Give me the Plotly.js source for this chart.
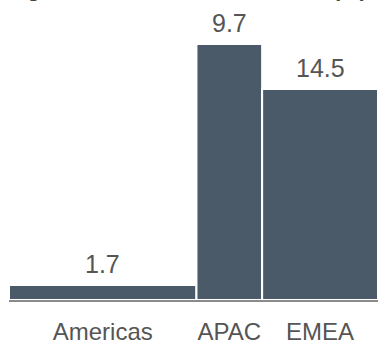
<!DOCTYPE html>
<html>
<head>
<meta charset="utf-8">
<script src="https://cdn.plot.ly/plotly-3.0.1.min.js"></script>
<style>
html,body{margin:0;padding:0;background:#fff;}
#chart{width:378px;height:344px;}
</style>
</head>
<body>
<div id="chart"></div>
<script>
// Data
var regions = ['Americas', 'APAC', 'EMEA'];
var shares = [50.8, 17.8, 31.4];          // bar widths (share of total, %)
var heights = [5.0, 85.3, 70.3];          // bar heights
var labels = ['1.7', '9.7', '14.5'];      // value labels shown above bars
var titleText = 'Regional share of total revenue (%)';

// Cumulative positions for the variable-width bars
var centers = [];
var acc = 0;
for (var i = 0; i < shares.length; i++) {
  centers.push(acc + shares[i] / 2);
  acc += shares[i];
}

var font = 'Liberation Sans, Arial, Helvetica, sans-serif';

var trace = {
  type: 'bar',
  x: centers,
  y: heights,
  width: shares,
  marker: {color: '#4b5a69', line: {color: '#ffffff', width: 2}},
  hoverinfo: 'skip'
};

var annotations = centers.map(function (c, i) {
  return {
    x: c, y: heights[i], xref: 'x', yref: 'y',
    text: labels[i], showarrow: false,
    xanchor: 'center', yanchor: 'bottom', yshift: 5,
    font: {family: font, size: 25, color: '#555555'}
  };
});

annotations.push({
  x: 0, y: 1, xref: 'paper', yref: 'paper',
  xanchor: 'left', yanchor: 'bottom', yshift: -3.5, xshift: -12,
  text: '<b>' + titleText + '</b>', showarrow: false,
  font: {family: font, size: 22, color: '#444444'}
});

var layout = {
  width: 378, height: 344,
  margin: {l: 9, r: 0, t: 0, b: 44},
  paper_bgcolor: '#ffffff', plot_bgcolor: '#ffffff',
  showlegend: false,
  bargap: 0,
  xaxis: {
    range: [0, 100], showgrid: false, zeroline: false,
    showline: true, linecolor: '#8a8a8a', linewidth: 2,
    tickvals: centers, ticktext: regions, ticks: '',
    ticklabelstandoff: 9,
    tickfont: {family: font, size: 24, color: '#555555'},
    fixedrange: true
  },
  yaxis: {
    range: [0, 100], showgrid: false, zeroline: false,
    showline: false, showticklabels: false, ticks: '',
    fixedrange: true
  },
  annotations: annotations
};

Plotly.newPlot('chart', [trace], layout, {displayModeBar: false, staticPlot: true});
</script>
</body>
</html>
